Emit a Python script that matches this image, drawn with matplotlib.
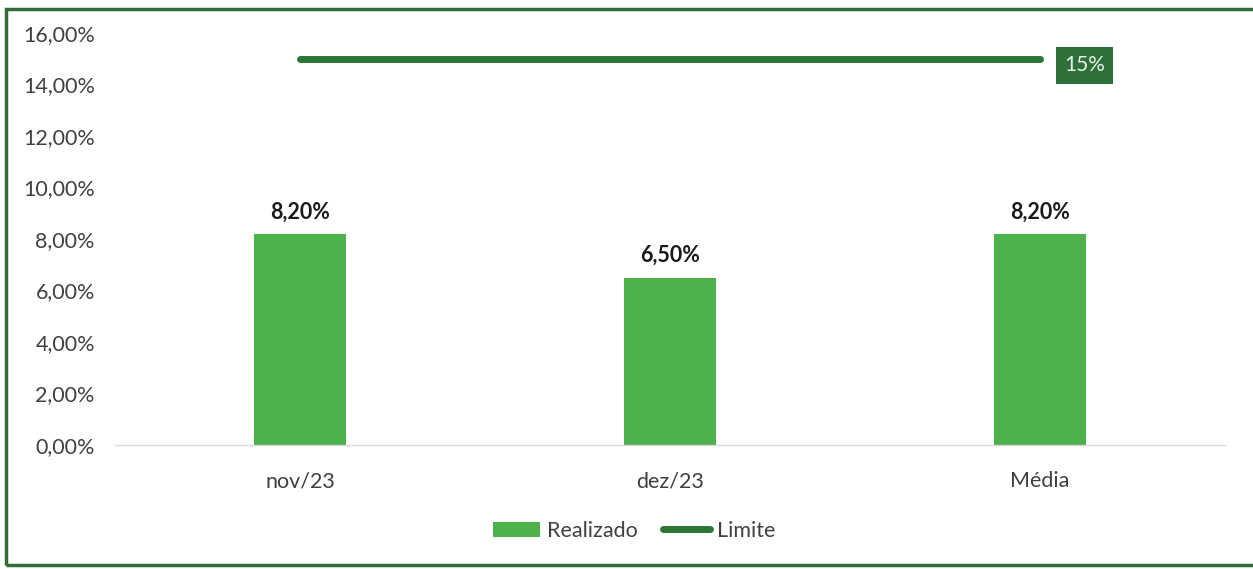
import matplotlib
matplotlib.use("Agg")
import matplotlib.pyplot as plt
from matplotlib.patches import Rectangle
from matplotlib.ticker import FuncFormatter

categories = ["nov/23", "dez/23", "Média"]
realizado = [8.2, 6.5, 8.2]
bar_labels = ["8,20%", "6,50%", "8,20%"]
limite = [15, 15, 15]
limite_label = "15%"
yticks = [0, 2, 4, 6, 8, 10, 12, 14, 16]

plt.rcParams['font.family'] = ['Lato', 'DejaVu Sans']

W, H = 1253, 569
fig = plt.figure(figsize=(W / 100, H / 100), dpi=100)
ax = fig.add_axes([115 / W, 1 - 445 / H, 1110 / W, (445 - 33) / H])

bar_color = "#4DB14E"
line_color = "#2E7538"

x = list(range(len(categories)))
bars = ax.bar(x, realizado, width=0.25, color=bar_color, label="Realizado", zorder=2)
line, = ax.plot(x, limite, color=line_color, lw=5, solid_capstyle="round", label="Limite", zorder=3)

for xi, v, lab in zip(x, realizado, bar_labels):
    ax.text(xi, v + 0.45, lab, ha="center", va="bottom", fontsize=15.5, fontweight="bold", color="#1a1a1a")

ax.text(x[-1] + 0.12, limite[-1] - 0.25, limite_label, ha="center", va="center", fontsize=15,
        color="#e8f2ea", bbox=dict(boxstyle="square,pad=0.4", fc="#2F6F3A", ec="none"), zorder=4)

ax.set_xlim(-0.5, 2.5)
ax.set_ylim(0, 16)
ax.set_yticks(yticks)
ax.yaxis.set_major_formatter(FuncFormatter(lambda v, p: f"{v:.2f}%".replace(".", ",")))
ax.set_xticks(x)
ax.set_xticklabels(categories)
ax.tick_params(axis="both", length=0, labelsize=15.5, colors="#404040")
ax.tick_params(axis="x", pad=19)
ax.tick_params(axis="y", pad=14.5)
for s in ["top", "right", "left"]:
    ax.spines[s].set_visible(False)
ax.spines["bottom"].set_color("#d9d9d9")
ax.spines["bottom"].set_linewidth(1)

leg = fig.legend([bars, line], ["Realizado", "Limite"], loc="center",
                 bbox_to_anchor=(634 / W, 1 - 531 / H), ncol=2, frameon=False,
                 fontsize=15.5, handlelength=2.2, handleheight=0.75, handletextpad=0.3,
                 columnspacing=1.2, labelcolor="#404040")

fig.patches.append(Rectangle((6 / W, 1 - 565 / H), (W + 10) / W, (565 - 9) / H,
                             transform=fig.transFigure, fill=False, ec="#2E6B35", lw=2.5))

fig.savefig("out.png", dpi=100)
